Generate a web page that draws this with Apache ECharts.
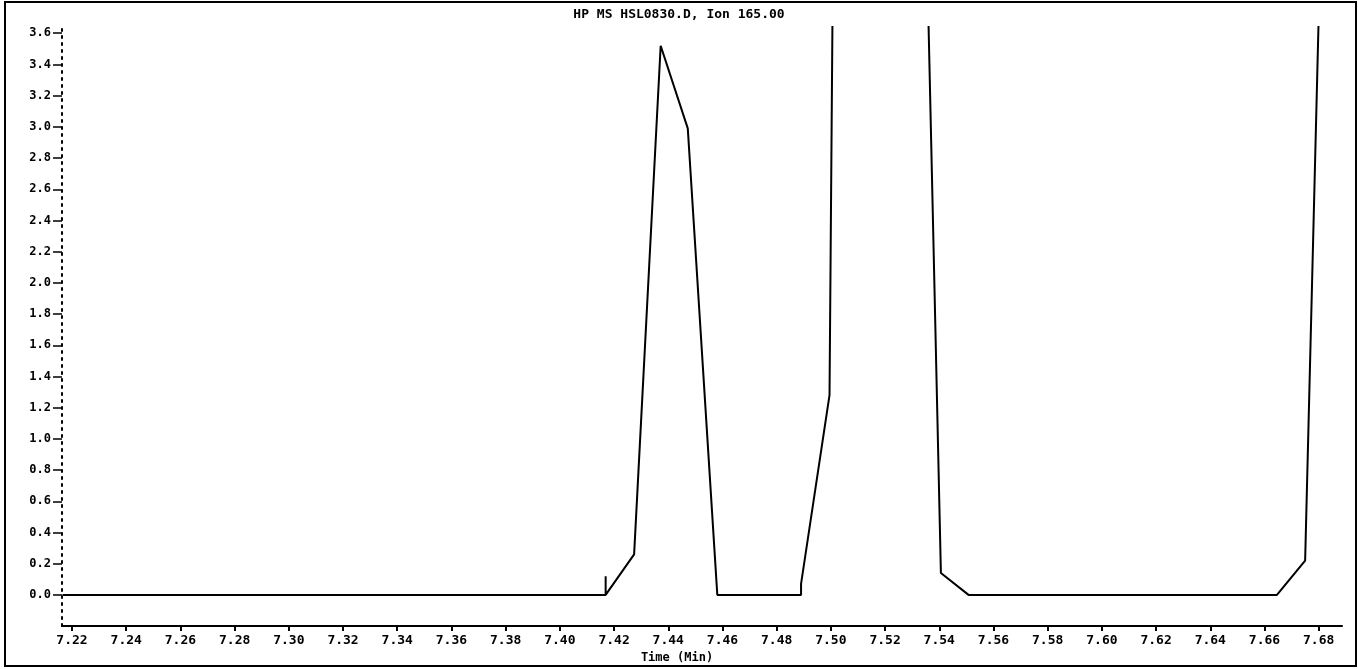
<!DOCTYPE html>
<html>
<head>
<meta charset="utf-8">
<title>HP MS HSL0830.D, Ion 165.00</title>
<script src="https://cdn.jsdelivr.net/npm/echarts@6.0.0/dist/echarts.min.js"></script>
<style>
    html, body { margin: 0; padding: 0; background: #fff; }
    #chart { width: 1358px; height: 669px; }
</style>
</head>
<body>
<div id="chart"></div>
<script>
// ion trace (values above 3.6 are off scale, estimated)
const times = [7.2165, 7.4169, 7.4169, 7.4169, 7.4274, 7.4372, 7.4472, 7.4581, 7.4890, 7.4890,
    7.4995, 7.5098, 7.5201, 7.5304, 7.5406, 7.5508, 7.6646, 7.6750, 7.6853];
const abundance = [0, 0, 0.12, 0, 0.26, 3.52, 2.99, 0, 0, 0.07,
    1.28, 24, 40, 8, 0.14, 0, 0, 0.22, 7.4];

// tick labels
const xTicks = [7.22, 7.24, 7.26, 7.28, 7.30, 7.32, 7.34, 7.36, 7.38, 7.40, 7.42, 7.44,
    7.46, 7.48, 7.50, 7.52, 7.54, 7.56, 7.58, 7.60, 7.62, 7.64, 7.66, 7.68];
const yTicks = [0.0, 0.2, 0.4, 0.6, 0.8, 1.0, 1.2, 1.4, 1.6, 1.8, 2.0, 2.2, 2.4, 2.6, 2.8,
    3.0, 3.2, 3.4, 3.6];

const chart = echarts.init(document.getElementById("chart"));
const font = "DejaVu Sans Mono";

const option = {
    backgroundColor: "#fff",
    animation: false,
    title: {
        text: "HP MS HSL0830.D, Ion 165.00",
        left: "center",
        top: 3,
        textStyle: { fontFamily: font, fontSize: 13, fontWeight: "bold", color: "#000" }
    },
    grid: { left: 62, right: 16, top: 27, bottom: 42 },
    xAxis: {
        type: "value",
        min: 7.2163,
        max: 7.6886,
        name: "Time (Min)",
        nameLocation: "middle",
        nameGap: 25,
        nameTextStyle: { fontFamily: font, fontSize: 12, fontWeight: "bold", color: "#000", padding: [0, 50, 0, 0] },
        axisLine: { onZero: false, lineStyle: { color: "#000", width: 2 } },
        axisTick: { customValues: xTicks, length: 5, lineStyle: { color: "#000", width: 2 } },
        axisLabel: {
            customValues: xTicks,
            margin: 8,
            fontFamily: font,
            fontSize: 13,
            fontWeight: "bold",
            color: "#000",
            formatter: v => v.toFixed(2)
        },
        splitLine: { show: false }
    },
    yAxis: {
        type: "value",
        min: -0.2,
        max: 3.64,
        axisLine: { show: true, lineStyle: { color: "#000", width: 2, type: [2, 5] } },
        axisTick: { customValues: yTicks, length: 9, lineStyle: { color: "#000", width: 1.5 } },
        axisLabel: {
            customValues: yTicks,
            margin: 11,
            fontFamily: font,
            fontSize: 12,
            fontWeight: "bold",
            color: "#000",
            formatter: v => v.toFixed(1)
        },
        splitLine: { show: false }
    },
    graphic: [
        {
            // frame round the whole plot
            type: "rect",
            shape: { x: 5, y: 2, width: 1351, height: 664 },
            style: { fill: null, stroke: "#000", lineWidth: 2 },
            silent: true
        }
    ],
    series: [
        {
            type: "line",
            data: times.map((t, i) => [t, abundance[i]]),
            showSymbol: false,
            clip: true,
            lineStyle: { color: "#000", width: 2 }
        }
    ]
};

chart.setOption(option);
</script>
</body>
</html>
